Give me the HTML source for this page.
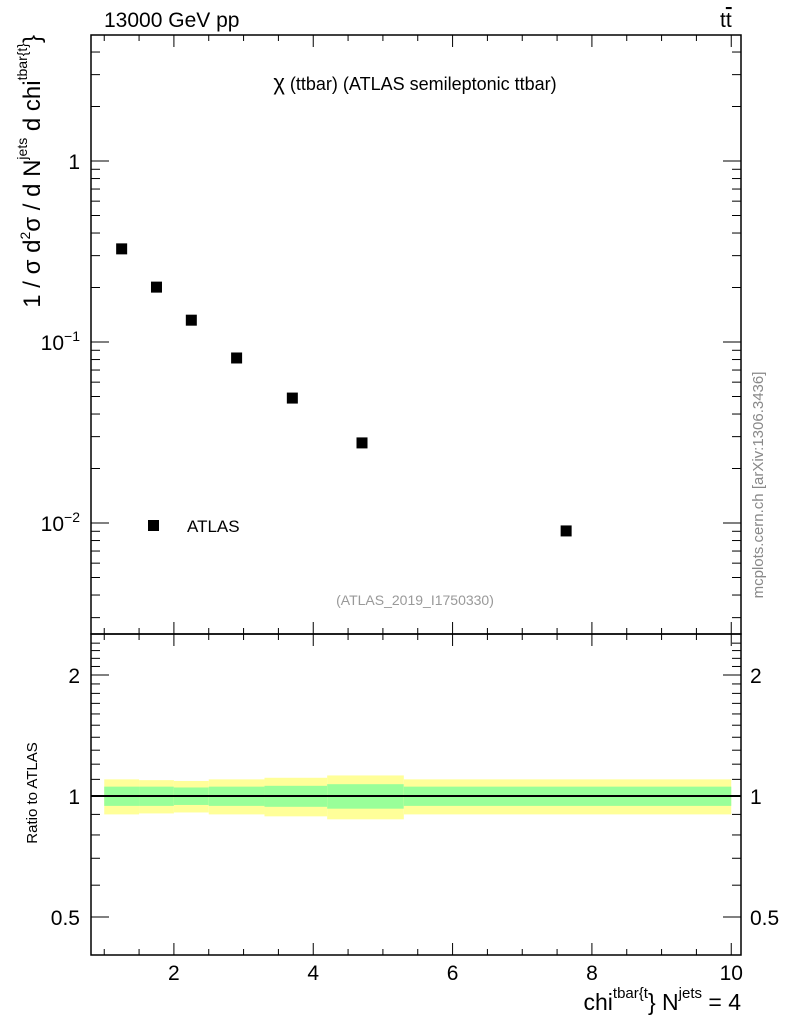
<!DOCTYPE html>
<html><head><meta charset="utf-8"><style>body{margin:0;background:#fff}svg{display:block;font-family:"Liberation Sans",sans-serif}</style></head>
<body>
<svg id="c" width="786" height="1024"></svg>
<script>
const xCenters=[1.25,1.75,2.25,2.9,3.7,4.7,7.63];
const yValues=[0.327,0.201,0.132,0.0816,0.049,0.0277,0.00904];
const binEdges=[1,1.5,2,2.5,3.3,4.2,5.3,10];
const totErr=[0.10,0.095,0.09,0.10,0.11,0.125,0.10];
const statErr=[0.055,0.055,0.05,0.055,0.06,0.07,0.055];
const xTicks=[2,4,6,8,10];
const L=91,R=741,T=35,M=634,B=955;
const X=v=>L+(v-0.81)*(R-L)/(10.14-0.81);
const Y=v=>161-181*Math.log10(v);
const YR=v=>796-402*Math.log10(v);
const svg=document.getElementById('c');const NS='http://www.w3.org/2000/svg';
function el(t,a,p){const e=document.createElementNS(NS,t);for(const k in a)e.setAttribute(k,a[k]);(p||svg).appendChild(e);return e;}
function txt(s,a,name){const e=el('text',a);e.innerHTML=s;return e;}
for(let i=0;i<totErr.length;i++){
 const x0=X(binEdges[i]),x1=X(binEdges[i+1]);
 const y=el('rect',{x:x0,y:YR(1+totErr[i]),width:x1-x0,height:YR(1-totErr[i])-YR(1+totErr[i]),fill:'#ffff99'});
 
 
 const g=el('rect',{x:x0,y:YR(1+statErr[i]),width:x1-x0,height:YR(1-statErr[i])-YR(1+statErr[i]),fill:'#99ff99'});
 
 
}
el('line',{x1:L,x2:R,y1:YR(1),y2:YR(1),stroke:'#000','stroke-width':2});
const f1=el('rect',{x:L,y:T,width:R-L,height:M-T,fill:'none',stroke:'#000','stroke-width':1.5});


const f2=el('rect',{x:L,y:M,width:R-L,height:B-M,fill:'none',stroke:'#000','stroke-width':1.5});


for(let v=1;v<=10.01;v+=0.5){const big=Math.abs(v-Math.round(v/2)*2)<0.01;const len=big?12:6;const x=X(v);
 [[T,1],[M,-1],[M,1],[B,-1]].forEach(([y,d])=>el('line',{x1:x,x2:x,y1:y,y2:y+d*len,stroke:'#000'}));}
xTicks.forEach(v=>txt(v,{x:X(v),y:980,'font-size':21,'text-anchor':'middle'},'x-tick-label'));
for(let d=-3;d<=0;d++)for(let m=1;m<10;m++){const v=m*Math.pow(10,d);const y=Y(v);if(y<T||y>M)continue;const len=m==1?18:9;
 el('line',{x1:L,x2:L+len,y1:y,y2:y,stroke:'#000'});el('line',{x1:R,x2:R-len,y1:y,y2:y,stroke:'#000'});}
txt('1',{x:80,y:Y(1)+8,'font-size':21,'text-anchor':'end'},'y-tick-label');
txt('10<tspan dy="-9" font-size="14">−1</tspan>',{x:80,y:Y(0.1)+8,'font-size':21,'text-anchor':'end'},'y-tick-label');
txt('10<tspan dy="-9" font-size="14">−2</tspan>',{x:80,y:Y(0.01)+8,'font-size':21,'text-anchor':'end'},'y-tick-label');
for(let v=0.4;v<=2.5;v+=0.1){const y=YR(v);if(y<M||y>B)continue;const maj=[0.5,1,2].some(m=>Math.abs(m-v)<0.01);const len=maj?18:9;
 el('line',{x1:L,x2:L+len,y1:y,y2:y,stroke:'#000'});el('line',{x1:R,x2:R-len,y1:y,y2:y,stroke:'#000'});}
[[2,'2'],[1,'1'],[0.5,'0.5']].forEach(([v,s])=>{txt(s,{x:80,y:YR(v)+8,'font-size':21,'text-anchor':'end'},'ratio-tick-label');txt(s,{x:750,y:YR(v)+8,'font-size':21},'ratio-tick-label-right');});
for(let i=0;i<xCenters.length;i++){const p=el('rect',{x:X(xCenters[i])-5.5,y:Y(yValues[i])-5.5,width:11,height:11,fill:'#000'});
 
 }
const lg=el('rect',{x:148,y:520,width:11,height:11,fill:'#000'});


txt('ATLAS',{x:187,y:532,'font-size':17},'legend-label');
txt('13000 GeV pp',{x:104,y:27,'font-size':21},'energy-label');
txt('t<tspan text-decoration="overline">t</tspan>',{x:720,y:27,'font-size':21},'process-label');
txt('<tspan font-size="22">χ</tspan> (ttbar) (ATLAS semileptonic ttbar)',{x:415,y:90,'font-size':18,'text-anchor':'middle'},'plot-title');
txt('(ATLAS_2019_I1750330)',{x:415,y:605,'font-size':14,'text-anchor':'middle',fill:'#999'},'analysis-id');
txt('mcplots.cern.ch [arXiv:1306.3436]',{x:0,y:0,'font-size':15,fill:'#888','text-anchor':'middle',transform:'translate(763,485) rotate(-90)'},'watermark');
txt('1 / σ d<tspan dy="-10" font-size="14">2</tspan><tspan dy="10">σ / d N</tspan><tspan dy="-13" font-size="14">jets</tspan><tspan dy="13"> d chi</tspan><tspan dy="-13" font-size="14">tbar{t}</tspan><tspan dy="13">}</tspan>',{x:0,y:0,'font-size':24,'text-anchor':'end',transform:'translate(40,35) rotate(-90)'},'y-axis-title');
txt('Ratio to ATLAS',{x:0,y:0,'font-size':15,'text-anchor':'middle',transform:'translate(37,793) rotate(-90)'},'ratio-axis-title');
txt('chi<tspan dy="-12" font-size="15">tbar{t</tspan><tspan dy="12">} N</tspan><tspan dy="-12" font-size="15">jets</tspan><tspan dy="12"> = 4</tspan>',{x:741,y:1010,'font-size':23,'text-anchor':'end'},'x-axis-title');
</script>
</body></html>
